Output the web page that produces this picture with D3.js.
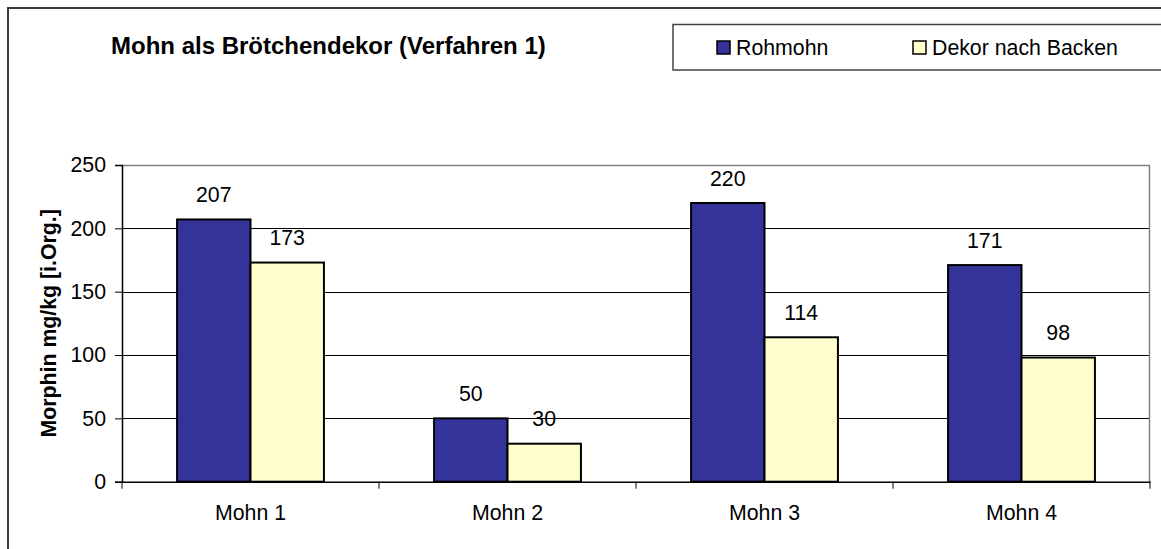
<!DOCTYPE html>
<html>
<head>
<meta charset="utf-8">
<script src="https://cdn.jsdelivr.net/npm/d3@7"></script>
<style>
  body { margin: 0; background: #fff; }
  svg { display: block; font-family: "Liberation Sans", Arial, sans-serif; }
</style>
</head>
<body>
<script>
// chart data
var categories = ["Mohn 1", "Mohn 2", "Mohn 3", "Mohn 4"];
var seriesNames = ["Rohmohn", "Dekor nach Backen"];
var rohmohn = [207, 50, 220, 171];
var dekor = [173, 30, 114, 98];
var yTicks = [0, 50, 100, 150, 200, 250];
var colors = ["#333399", "#FFFFCC"];

var svgWidth = 1161;
var svgHeight = 549;
var fs = 21.3; // normal text size

var margin = { top: 165, right: 11, bottom: 67.3, left: 122 };
var width = svgWidth - margin.left - margin.right;
var height = svgHeight - margin.top - margin.bottom;

var svg = d3.select("body").append("svg").attr("width", svgWidth).attr("height", svgHeight);

// outer chart border (runs off the picture on right and bottom)
svg.append("rect")
  .attr("x", 8).attr("y", 8)
  .attr("width", 1200).attr("height", 600)
  .attr("fill", "none")
  .attr("stroke", "#3a3a3a")
  .attr("stroke-width", 2);

// title
svg.append("text")
  .attr("x", 111).attr("y", 54)
  .attr("font-size", 24)
  .attr("font-weight", "bold")
  .text("Mohn als Brötchendekor (Verfahren 1)");

// legend
var legend = svg.append("g");
legend.append("rect")
  .attr("x", 673).attr("y", 24.5)
  .attr("width", 500).attr("height", 45.5)
  .attr("fill", "#fff")
  .attr("stroke", "#444")
  .attr("stroke-width", 1.5);
var legendX = [717, 913];
seriesNames.forEach(function(name, i) {
  legend.append("rect")
    .attr("x", legendX[i]).attr("y", 41)
    .attr("width", 13).attr("height", 13)
    .attr("fill", colors[i])
    .attr("stroke", "#000")
    .attr("stroke-width", 1.5);
  legend.append("text")
    .attr("x", legendX[i] + 19).attr("y", 55)
    .attr("font-size", fs)
    .text(name);
});

var chartGroup = svg.append("g").attr("transform", `translate(${margin.left}, ${margin.top})`);

// scales
var x0 = d3.scaleBand().domain(categories).range([0, width]).padding(0);
var barW = x0.bandwidth() / 3.5;
var x1 = d3.scaleBand().domain(seriesNames).range([0, barW * 2]).padding(0);
var y = d3.scaleLinear().domain([0, 250]).range([height, 0]);

// gridlines
chartGroup.append("g")
  .selectAll("line")
  .data(yTicks.filter(d => d > 0 && d < 250))
  .enter()
  .append("line")
  .attr("x1", 0).attr("x2", width)
  .attr("y1", d => Math.round(y(d)) + 0.5)
  .attr("y2", d => Math.round(y(d)) + 0.5)
  .attr("stroke", "#000")
  .attr("stroke-width", 1);

// plot area border (top + right)
chartGroup.append("path")
  .attr("d", `M0,${0.5}H${width - 0.5}V${height}`)
  .attr("fill", "none")
  .attr("stroke", "#808080")
  .attr("stroke-width", 1.5);

// bars
var table = categories.map(function(c, i) {
  return { cat: c, values: [
    { name: seriesNames[0], value: rohmohn[i], color: colors[0] },
    { name: seriesNames[1], value: dekor[i], color: colors[1] }
  ] };
});

var groups = chartGroup.selectAll(".grp")
  .data(table)
  .enter()
  .append("g")
  .attr("class", "grp")
  .attr("transform", d => `translate(${x0(d.cat) + barW * 0.75}, 0)`);

groups.selectAll("rect")
  .data(d => d.values)
  .enter()
  .append("rect")
  .attr("x", d => x1(d.name))
  .attr("y", d => y(d.value))
  .attr("width", barW)
  .attr("height", d => height - y(d.value))
  .attr("fill", d => d.color)
  .attr("stroke", "#000")
  .attr("stroke-width", 2);

// data labels
groups.selectAll("text")
  .data(d => d.values)
  .enter()
  .append("text")
  .attr("x", d => x1(d.name) + barW / 2)
  .attr("y", d => y(d.value) - 17.5)
  .attr("text-anchor", "middle")
  .attr("font-size", fs)
  .text(d => d.value);

// y axis
var leftAxis = d3.axisLeft(y).tickValues(yTicks).tickSize(7).tickPadding(9);
var yAxisG = chartGroup.append("g").call(leftAxis);
yAxisG.select(".domain").attr("stroke", "#000").attr("stroke-width", 1.5);
yAxisG.selectAll(".tick line").attr("stroke", "#000");
yAxisG.selectAll(".tick text")
  .attr("font-size", fs)
  .attr("font-family", "Liberation Sans, Arial, sans-serif")
  .attr("fill", "#000");

// x axis with ticks between categories
var bottomAxis = d3.axisBottom(x0).tickSize(0).tickPadding(23);
var xAxisG = chartGroup.append("g")
  .attr("transform", `translate(0, ${height})`)
  .call(bottomAxis);
xAxisG.select(".domain").attr("stroke", "#000").attr("stroke-width", 1.5);
xAxisG.selectAll(".tick text")
  .attr("font-size", fs)
  .attr("font-family", "Liberation Sans, Arial, sans-serif")
  .attr("fill", "#000");
xAxisG.selectAll(".sep")
  .data(d3.range(categories.length + 1))
  .enter()
  .append("line")
  .attr("class", "sep")
  .attr("x1", d => d * x0.bandwidth())
  .attr("x2", d => d * x0.bandwidth())
  .attr("y1", 0).attr("y2", 7)
  .attr("stroke", "#000");

// y axis label
svg.append("text")
  .attr("transform", `translate(56, ${margin.top + height / 2}) rotate(-90)`)
  .attr("text-anchor", "middle")
  .attr("font-size", 21.3)
  .attr("font-weight", "bold")
  .text("Morphin mg/kg [i.Org.]");
</script>
</body>
</html>
